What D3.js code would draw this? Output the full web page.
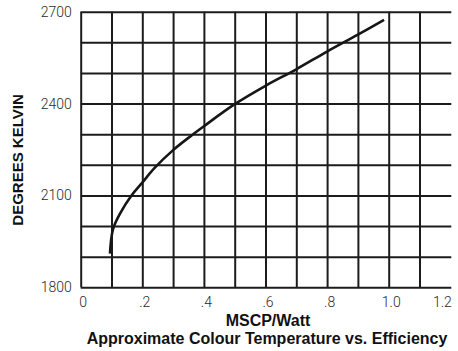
<!DOCTYPE html>
<html lang="en">
<head>
  <meta charset="UTF-8">
  <title>Colour Temperature vs. Efficiency</title>
  <style>
  body {
    margin: 0;
    background: white;
  }
  svg {
    display: block;
  }
  .grid line {
    stroke: #1c1c1c;
    stroke-width: 2;
  }
  .grid .domain {
    display: none;
  }
  .ticks text {
    font-family: Roboto, "Liberation Sans", sans-serif;
    font-weight: 300;
    font-size: 14px;
    fill: #2a2a2a;
  }
  .ticks .domain, .ticks line {
    display: none;
  }
  .title {
    font-family: "Liberation Sans", Arial, sans-serif;
    font-weight: bold;
    font-size: 16px;
    fill: #111;
  }
  .curve {
    fill: none;
    stroke: #161616;
    stroke-width: 2.6;
  }
  </style>
</head>
<body>
  <script src="https://d3js.org/d3.v7.min.js"></script>
  <script>

  // values
  var efficiency = [0.095, 0.105, 0.13, 0.165, 0.2, 0.24, 0.3, 0.36, 0.4, 0.5, 0.6, 0.7, 0.8, 0.9, 0.985];
  var kelvin = [1910, 1990, 2045, 2100, 2142, 2190, 2248, 2296, 2326, 2398, 2458, 2512, 2570, 2625, 2673];

  var xTicks = [0, 0.2, 0.4, 0.6, 0.8, 1.0, 1.2];
  var xTickLabels = ['0', '.2', '.4', '.6', '.8', '1.0', '1.2'];
  var yTicks = [1800, 2100, 2400, 2700];
  var xGrid = [0, 0.1, 0.2, 0.3, 0.4, 0.5, 0.6, 0.7, 0.8, 0.9, 1.0, 1.1];
  var yGrid = [1800, 1900, 2000, 2100, 2200, 2300, 2400, 2500, 2600, 2700];

  var width = 458;
  var height = 351;
  var plotLeft = 80.7, plotRight = 450.3, plotTop = 11.7, plotBottom = 287.3;

  var svg = d3.select('body').append('svg')
              .attr('width', width)
              .attr('height', height);

  var x = d3.scaleLinear().domain([0, 1.2]).range([plotLeft, plotRight]);
  var y = d3.scaleLinear().domain([1800, 2700]).range([plotBottom, plotTop]);

  // grid
  svg.append('g')
     .attr('class', 'grid')
     .attr('transform', 'translate(0,' + plotTop + ')')
     .call(d3.axisBottom(x).tickValues(xGrid).tickSize(plotBottom - plotTop).tickFormat(''));

  svg.append('g')
     .attr('class', 'grid')
     .attr('transform', 'translate(' + plotLeft + ',0)')
     .call(d3.axisRight(y).tickValues(yGrid).tickSize(plotRight - plotLeft + 1).tickFormat(''));

  // tick labels
  var xAxis = svg.append('g')
                 .attr('class', 'ticks')
                 .attr('transform', 'translate(0,' + plotBottom + ')')
                 .call(d3.axisBottom(x)
                         .tickValues(xTicks)
                         .tickSize(0)
                         .tickPadding(10)
                         .tickFormat(function (d, i) { return xTickLabels[i]; }));
  xAxis.selectAll('text').attr('dx', 2);
  xAxis.selectAll('.tick:last-of-type text')
       .attr('text-anchor', 'end')
       .attr('dx', 1);

  svg.append('g')
     .attr('class', 'ticks')
     .attr('transform', 'translate(' + plotLeft + ',0)')
     .call(d3.axisLeft(y)
             .tickValues(yTicks)
             .tickSize(0)
             .tickPadding(9)
             .tickFormat(d3.format('d')));

  // curve
  var line = d3.line()
               .x(function (d, i) { return x(efficiency[i]); })
               .y(function (d) { return y(d); })
               .curve(d3.curveCatmullRom.alpha(0.5));

  svg.append('path')
     .attr('class', 'curve')
     .attr('d', line(kelvin));

  // titles
  svg.append('text')
     .attr('class', 'title')
     .attr('x', 268)
     .attr('y', 326)
     .attr('text-anchor', 'middle')
     .text('MSCP/Watt');

  svg.append('text')
     .attr('class', 'title')
     .attr('x', 267)
     .attr('y', 344)
     .attr('text-anchor', 'middle')
     .text('Approximate Colour Temperature vs. Efficiency');

  svg.append('text')
     .attr('class', 'title')
     .attr('transform', 'translate(23,160) rotate(-90)')
     .attr('text-anchor', 'middle')
     .style('font-size', '15px')
     .text('DEGREES KELVIN');

  </script>
</body>
</html>
